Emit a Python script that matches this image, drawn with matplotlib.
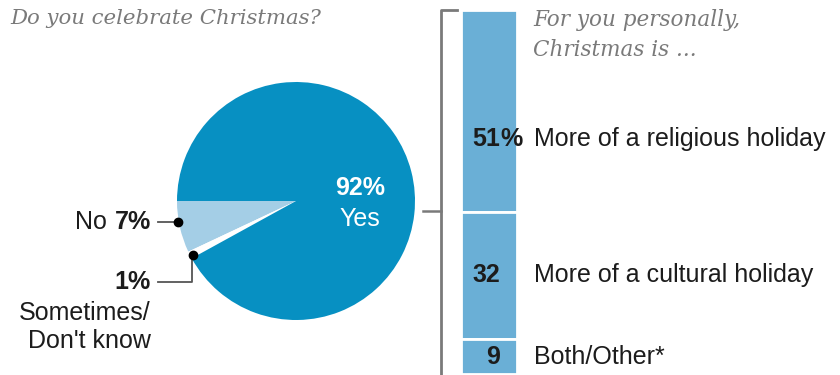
import matplotlib

matplotlib.use("Agg")
import matplotlib.pyplot as plt
import numpy as np

# pie: do you celebrate Christmas?
pie_labels = ["No", "Sometimes/Don't know", "Yes"]
pie_values = [7, 1, 92]

# bar: for you personally, Christmas is ...
bar_values = [51, 32, 9]
bar_numbers = ["51", "32", "9"]
bar_labels = ["More of a religious holiday", "More of a cultural holiday", "Both/Other*"]

DARK, LIGHT, BAR = "#0790c2", "#a4cee6", "#6aafd6"
INK, GREY = "#1c1c1c", "#7a7a7a"
SANS = "Liberation Sans"
SERIF = "DejaVu Serif"
FS = 18

fig = plt.figure(figsize=(8.4, 3.75), dpi=100)

# main axes in pixel units, y pointing down
ax = fig.add_axes([0, 0, 1, 1])
ax.pie(pie_values, colors=[LIGHT, "white", DARK], startangle=180, counterclock=False,
       center=(296, 201), radius=119, wedgeprops=dict(linewidth=0))
ax.set_xlim(0, 840)
ax.set_ylim(375, 0)
ax.set_aspect("equal")
ax.axis("off")

ax.text(10, 18, "Do you celebrate Christmas?", family=SERIF, style="italic",
        fontsize=15.3, color=GREY, va="center", ha="left")

ax.text(360, 188, f"{pie_values[2]}%", color="white", fontsize=FS, fontweight="bold",
        family=SANS, ha="center", va="center")
ax.text(360, 219, pie_labels[2], color="white", fontsize=FS, family=SANS, ha="center", va="center")

# callouts for the small slices
ax.text(151, 222, f"{pie_values[0]}%", fontsize=FS, fontweight="bold", family=SANS,
        color=INK, ha="right", va="center")
ax.text(107, 222, pie_labels[0], fontsize=FS, family=SANS, color=INK, ha="right", va="center")
ax.plot([158, 178], [222, 222], color="#555555", lw=1.3)
ax.plot([178], [222], "o", color="black", ms=6)

ax.text(151, 282, f"{pie_values[1]}%", fontsize=FS, fontweight="bold", family=SANS,
        color=INK, ha="right", va="center")
ax.text(151, 327, "Sometimes/\nDon't know", fontsize=FS, family=SANS, color=INK,
        ha="right", va="center", linespacing=1.2)
ax.plot([158, 192, 192], [282, 282, 256], color="#555555", lw=1.3)
ax.plot([193], [255], "o", color="black", ms=6)

# bracket linking "Yes" to the bar
ax.plot([423, 441], [211, 211], color=GREY, lw=1.8)
ax.plot([457, 441, 441], [10, 10, 380], color=GREY, lw=2)

ax.text(533, 20, "For you personally,", family=SERIF, style="italic",
        fontsize=15.5, color=GREY, va="center", ha="left")
ax.text(533, 50, "Christmas is ...", family=SERIF, style="italic",
        fontsize=15.5, color=GREY, va="center", ha="left")

# stacked bar, 0 at top
bax = fig.add_axes([461 / 840, 0, 56 / 840, 365 / 375])
bottoms = np.concatenate([[0], np.cumsum(bar_values)[:-1]])
bax.bar(0, bar_values, bottom=bottoms, width=1, color=BAR, edgecolor="white", linewidth=2)
bax.set_xlim(-0.5, 0.5)
bax.set_ylim(365 / 3.96, 0)
bax.axis("off")

label_y = bottoms + np.array(bar_values) / 2
label_y[0] += 7
for y, num, lab, i in zip(label_y, bar_numbers, bar_labels, range(3)):
    bax.text(0.2, y, num, fontsize=FS, fontweight="bold", family=SANS, color=INK,
             ha="right", va="center", clip_on=False)
    if i == 0:
        bax.text(0.2, y, "%", fontsize=FS, fontweight="bold", family=SANS, color=INK,
                 ha="left", va="center", clip_on=False)
    bax.text(0.81, y, lab, fontsize=FS, family=SANS, color=INK, ha="left", va="center",
             clip_on=False)

fig.savefig("out.png", dpi=100)
